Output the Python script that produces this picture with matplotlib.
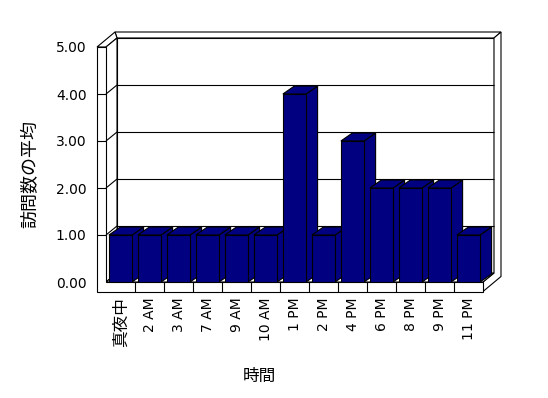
import matplotlib
matplotlib.use("Agg")
import matplotlib.pyplot as plt
from matplotlib.patches import Polygon

plt.rcParams['font.family'] = ['DejaVu Sans', 'Noto Sans CJK JP']

categories = ["真夜中", "2 AM", "3 AM", "7 AM", "9 AM", "10 AM", "1 PM", "2 PM",
              "4 PM", "6 PM", "8 PM", "9 PM", "11 PM"]
values = [1, 1, 1, 1, 1, 1, 4, 1, 3, 2, 2, 2, 1]
yticks = [0, 1, 2, 3, 4, 5]
ylabel = "訪問数の平均"
xlabel = "時間"

W, H = 548, 398
fig = plt.figure(figsize=(W / 100, H / 100), dpi=100)
ax = fig.add_axes([106 / W, (H - 282) / H, 377 / W, 235 / H])
n = len(categories)
X0, X1 = -0.5, n - 0.5
YMAX = yticks[-1]
ax.set_xlim(X0, X1)
ax.set_ylim(0, YMAX)

pxx, pxy = 29.0, 47.0
Dx, Dy = 11 / pxx, 9 / pxy      # inner depth of walls
Tx, Ty = 18 / pxx, 15 / pxy     # outer depth incl. wall thickness
tw, tf = 9 / pxx, 9.5 / pxy     # wall / floor thickness
bx, by = 11.5 / pxx, 8 / pxy    # bar depth
lw = 0.8
navy = "#000080"

def poly(pts, fc="white", z=1):
    ax.add_patch(Polygon(pts, closed=True, facecolor=fc, edgecolor="black",
                         linewidth=lw, zorder=z, clip_on=False, joinstyle="miter"))

def line(xs, ys, z=2):
    ax.plot(xs, ys, color="black", linewidth=lw, zorder=z, clip_on=False,
            solid_capstyle="butt")

# back wall top
poly([(X0 - tw + Tx, YMAX + Ty), (X1 + Tx, YMAX + Ty), (X1 + Dx, YMAX + Dy), (X0 + Dx, YMAX + Dy)])
# back wall inner face
poly([(X0 + Dx, Dy), (X1 + Dx, Dy), (X1 + Dx, YMAX + Dy), (X0 + Dx, YMAX + Dy)])
for v in yticks[1:-1]:
    line([X0 + Dx, X1 + Dx], [v + Dy, v + Dy])
# right side of back wall + floor
poly([(X1, 0), (X1, -tf), (X1 + Tx, -tf + Ty), (X1 + Tx, YMAX + Ty), (X1 + Dx, YMAX + Dy), (X1 + Dx, Dy)])
# left wall top
poly([(X0 - tw, YMAX), (X0 - tw + Tx, YMAX + Ty), (X0 + Dx, YMAX + Dy), (X0, YMAX)])
# left wall inner face
poly([(X0, 0), (X0, YMAX), (X0 + Dx, YMAX + Dy), (X0 + Dx, Dy)])
for v in yticks[1:-1]:
    line([X0, X0 + Dx], [v, v + Dy])
# floor top
poly([(X0, 0), (X1, 0), (X1 + Dx, Dy), (X0 + Dx, Dy)])
# front faces of wall and floor
poly([(X0 - tw, -tf), (X1, -tf), (X1, 0), (X0, 0), (X0, YMAX), (X0 - tw, YMAX)])
for v in yticks[1:-1]:
    line([X0 - tw, X0], [v, v])
for k in range(1, n):
    line([X0 + k, X0 + k], [-tf, 0])

# bars
xs = list(range(n))
bw = 0.8
bars = ax.bar(xs, values, width=bw, color=navy, edgecolor="black", linewidth=lw)
for i, (p, v) in enumerate(zip(bars, values)):
    p.set_zorder(10 + i + 0.5)
    xr = i + bw / 2
    xl = i - bw / 2
    poly([(xr, 0), (xr, v), (xr + bx, v + by), (xr + bx, by)], fc=navy, z=10 + i)
    poly([(xl, v), (xr, v), (xr + bx, v + by), (xl + bx, v + by)], fc=navy, z=10 + i)

for s in ax.spines.values():
    s.set_visible(False)
ax.set_facecolor("none")
ax.set_yticks(yticks, [f"{v:.2f}" for v in yticks], fontsize=10)
ax.set_xticks(xs, categories, rotation=90, fontsize=10)
for t in ax.get_xticklabels():
    if any(ord(c) > 127 for c in t.get_text()):
        t.set_fontsize(12)
ax.tick_params(axis="y", length=0, pad=14)
ax.tick_params(axis="x", length=0, pad=11)

fig.text(30 / W, 1 - 174 / H, ylabel, rotation=90, ha="center", va="center", fontsize=13)
fig.text(259 / W, 1 - 376 / H, xlabel, ha="center", va="center", fontsize=12)

fig.savefig("out.png", dpi=100)
